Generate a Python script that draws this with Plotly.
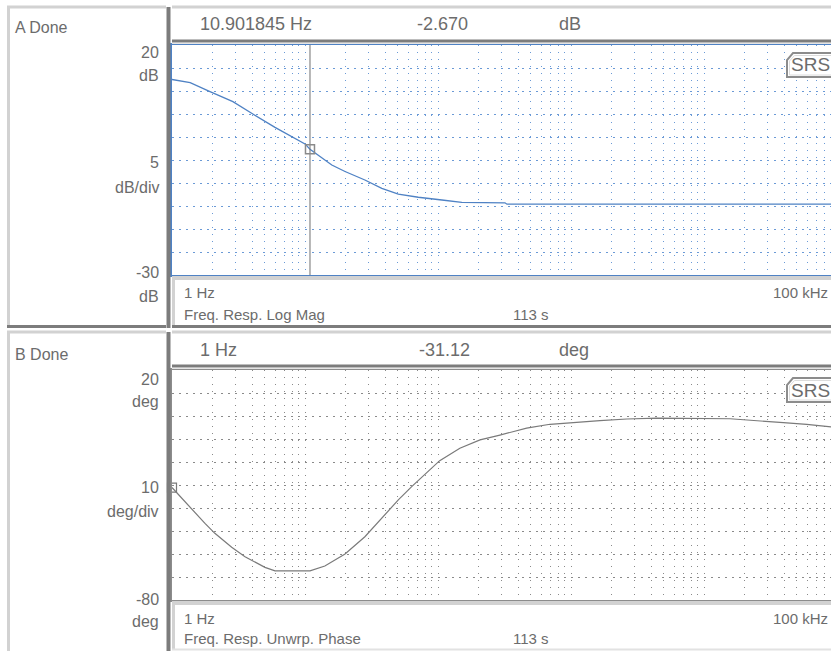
import math
import plotly.graph_objects as go

# ---------------- data ----------------
mag_freq = [1, 1.37, 1.93, 2.87, 3.97, 5.95, 10.0, 10.901845, 15.9, 20.0, 28.2, 37.8,
            50.3, 71.1, 107, 151, 319, 330, 100000]
mag_db = [12.5, 11.8, 9.85, 7.7, 5.15, 2.1, -1.5, -2.67, -6.1, -7.5, -9.35, -11.15,
          -12.4, -13.1, -13.7, -14.2, -14.3, -14.6, -14.6]

phase_freq = [1, 1.25, 1.77, 2.10, 2.81, 3.54, 5.0, 5.95, 10.9, 14.1, 20.0, 28.2, 37.8,
              50.3, 63.4, 73.2, 89.7, 103, 146, 207, 292, 464, 695, 983, 1650, 2630,
              4410, 15700, 26400, 39500, 59200, 88600, 100000]
phase_deg = [-31.1, -37.3, -46.7, -51.0, -57.1, -61.2, -65.8, -67.3, -67.3, -65.2, -60.0,
             -52.5, -44.5, -36.5, -30.7, -27.3, -22.6, -19.4, -14.0, -10.4, -8.3, -5.3,
             -3.6, -2.9, -2.0, -1.3, -0.9, -1.2, -2.0, -2.9, -3.6, -4.7, -5.0]

cursor_a = (10.901845, -2.670)
cursor_b = (1.0, -31.12)

mag_range = [-30, 20]
mag_div = 5
phase_range = [-80, 20]
phase_div = 10
freq_start_label = "1 Hz"
freq_stop_label = "100 kHz"
meas_a = "Freq. Resp. Log Mag"
meas_b = "Freq. Resp. Unwrp. Phase"
time_label = "113 s"

# ---------------- layout helpers ----------------
W, H = 831, 651
def px(x):
    return x / W
def py(y):
    return 1 - y / H

FONT = "Liberation Sans Narrow, Arial Narrow, Liberation Sans, Arial, sans-serif"
TXT = "#6c6c6c"
LIGHT = "#d2d2d2"
DARK = "#7c7c7c"
BLUE = "#4f82c4"
BLUE_GRID = "#6b9ad6"
GREY_GRID = "#8a8a8a"

fig = go.Figure()

fig.add_trace(go.Scatter(x=mag_freq, y=mag_db, mode="lines",
                         line=dict(color=BLUE, width=1.3), xaxis="x", yaxis="y",
                         showlegend=False, hoverinfo="skip"))
fig.add_trace(go.Scatter(x=[cursor_a[0], cursor_a[0]], y=mag_range, mode="lines",
                         line=dict(color="#6f6f6f", width=1), xaxis="x", yaxis="y",
                         showlegend=False, hoverinfo="skip"))
fig.add_trace(go.Scatter(x=[cursor_a[0]], y=[cursor_a[1]], mode="markers",
                         marker=dict(symbol="square-open", size=9, color="#8a8a8a",
                                     line=dict(width=1.5)),
                         xaxis="x", yaxis="y", showlegend=False, cliponaxis=False))

fig.add_trace(go.Scatter(x=phase_freq, y=phase_deg, mode="lines",
                         line=dict(color="#7a7a7a", width=1.2), xaxis="x2", yaxis="y2",
                         showlegend=False, hoverinfo="skip"))
fig.add_trace(go.Scatter(x=[cursor_b[0]], y=[cursor_b[1]], mode="markers",
                         marker=dict(symbol="square-open", size=9, color="#7a7a7a",
                                     line=dict(width=1.2)),
                         xaxis="x2", yaxis="y2", showlegend=False, cliponaxis=False))

x_right_log = (831 - 172) / 133.0
xr = [0, x_right_log]

def xaxis(color, grid, anchor):
    return dict(type="log", range=xr, domain=[px(172), 1], anchor=anchor,
                dtick="D1", showticklabels=False, ticks="",
                showgrid=True, gridcolor=grid, gridwidth=1, griddash="1px,6px",
                showline=True, linecolor=color, linewidth=1.5, mirror=True,
                zeroline=False, fixedrange=True)

def yaxis(rng, dt, color, grid, dom, anchor):
    return dict(range=rng, dtick=dt, tick0=rng[0], domain=dom, anchor=anchor,
                showticklabels=False, ticks="",
                showgrid=True, gridcolor=grid, gridwidth=1, griddash="2px,5px",
                showline=True, linecolor=color, linewidth=1.5, mirror=False,
                zeroline=False, fixedrange=True)

fig.update_layout(
    width=W, height=H, margin=dict(l=0, r=0, t=0, b=0),
    paper_bgcolor="white", plot_bgcolor="white",
    xaxis=xaxis(BLUE, BLUE_GRID, "y"),
    yaxis=yaxis(mag_range, mag_div, BLUE, BLUE_GRID, [py(275), py(45)], "x"),
    xaxis2=xaxis("#8c8c8c", GREY_GRID, "y2"),
    yaxis2=yaxis(phase_range, phase_div, "#8c8c8c", GREY_GRID, [py(600), py(370)], "x2"),
    font=dict(family=FONT, color=TXT, size=16),
)

shapes = []
def line(x0, y0, x1, y1, color, w):
    shapes.append(dict(type="line", xref="paper", yref="paper",
                       x0=px(x0), y0=py(y0), x1=px(x1), y1=py(y1),
                       line=dict(color=color, width=w), layer="above"))

annots = []
def text(x, y, s, anchor="left", size=16):
    annots.append(dict(xref="paper", yref="paper", x=px(x), y=py(y), text=s,
                       showarrow=False, xanchor=anchor, yanchor="middle",
                       font=dict(family=FONT, size=size, color=TXT)))

def srs(o):
    path = (f"M {px(793)},{py(53+o)} L {px(840)},{py(53+o)} L {px(840)},{py(71+o)} "
            f"L {px(834)},{py(77+o)} L {px(787)},{py(77+o)} L {px(787)},{py(60+o)} Z")
    shapes.append(dict(type="path", xref="paper", yref="paper", path=path,
                       fillcolor="white", line=dict(color="#8c8c8c", width=2), layer="above"))
    path2 = (f"M {px(794.5)},{py(55.5+o)} L {px(840)},{py(55.5+o)} L {px(840)},{py(70+o)} "
             f"L {px(833)},{py(75+o)} L {px(789.5)},{py(75+o)} L {px(789.5)},{py(61+o)} Z")
    shapes.append(dict(type="path", xref="paper", yref="paper", path=path2,
                       line=dict(color="#dcdcdc", width=1), layer="above"))
    text(810, 65 + o, "SRS", "center", 19)

def frame(o, bottom_panel):
    # left label box
    line(7, 7 + o, 166, 7 + o, LIGHT, 3)
    line(8.5, 7 + o, 8.5, (651 if bottom_panel else 326) + o, LIGHT, 3)
    line(168.5, 7 + o, 168.5, min(651, 328 + o), DARK, 4)
    if not bottom_panel:
        line(7, 326.5 + o, 166, 326.5 + o, DARK, 3)
    # header box
    line(172, 7 + o, 831, 7 + o, LIGHT, 3)
    line(172, 41 + o, 831, 41 + o, DARK, 3)
    line(172, 43.5 + o, 831, 43.5 + o, "#e4e4e4", 1)
    # footer box
    line(172, 278 + o, 831, 278 + o, LIGHT, 4)
    line(173.5, 276 + o, 173.5, min(650, 326 + o), LIGHT, 3)
    if not bottom_panel:
        line(172, 326.5 + o, 831, 326.5 + o, DARK, 3)
    else:
        line(172, 649.5, 831, 649.5, "#e2e2e2", 2)

frame(0, False)
frame(325, True)
srs(0)
srs(325)

# ---- panel A texts ----
text(13, 28, "A Done")
text(198, 24, f"{cursor_a[0]:.6f} Hz", size=18)
text(415, 24, f"{cursor_a[1]:.3f}", size=18)
text(557, 24, "dB", size=18)
text(161, 52.5, str(mag_range[1]), "right")
text(161, 76, "dB", "right")
text(161, 162.5, str(mag_div), "right")
text(161, 187.5, "dB/div", "right")
text(161, 272.5, str(mag_range[0]), "right")
text(161, 296, "dB", "right")
text(182, 292.5, freq_start_label, size=15)
text(182, 314.5, meas_a, size=15)
text(511, 314.5, time_label, size=15)
text(830, 292.5, freq_stop_label, "right", size=15)

# ---- panel B texts ----
text(13, 354, "B Done")
text(198, 350, freq_start_label, size=18)
text(417, 350, f"{cursor_b[1]:.2f}", size=18)
text(557, 350, "deg", size=18)
text(161, 379, str(phase_range[1]), "right")
text(161, 401, "deg", "right")
text(161, 487.5, str(phase_div), "right")
text(161, 511, "deg/div", "right")
text(161, 599, str(phase_range[0]), "right")
text(161, 621, "deg", "right")
text(182, 618, freq_start_label, size=15)
text(182, 638.5, meas_b, size=15)
text(511, 638.5, time_label, size=15)
text(830, 618, freq_stop_label, "right", size=15)

fig.update_layout(shapes=shapes, annotations=annots)
fig.write_html("out.html")
